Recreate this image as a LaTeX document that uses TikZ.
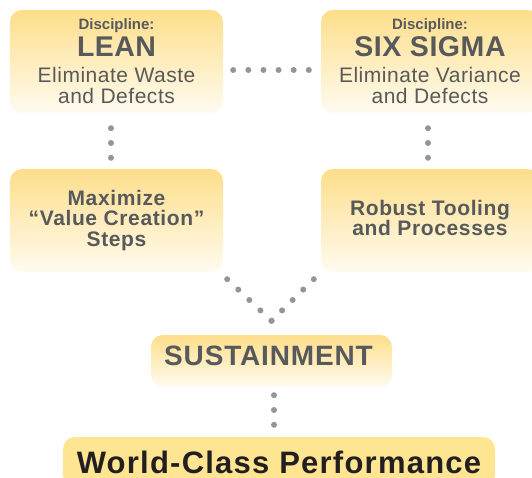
\documentclass[tikz,border=0pt]{standalone}
\usepackage{fontspec}
\setmainfont{Liberation Sans}
\usepackage{tikz}
\usetikzlibrary{calc}
\definecolor{boxgold}{HTML}{FDDE8A}
\definecolor{boxpale}{HTML}{FFFBF0}
\definecolor{goalgold}{HTML}{FEE591}
\definecolor{txtgray}{HTML}{58595B}
\definecolor{darktxt}{HTML}{231F20}
\definecolor{dotgray}{HTML}{939598}
\tikzset{
	panel/.style={rounded corners=12pt, align=center, inner sep=0pt},
	box/.style={panel, top color=boxgold, bottom color=boxpale, text=txtgray},
	goal/.style={panel, fill=goalgold, text=darktxt},
	dotfill/.style={fill=dotgray},
}
\newcommand{\spaced}[2]{\fontsize{#1}{#1}\selectfont\addfontfeature{LetterSpace=#2}}
\newcommand{\dotrow}[3]{\foreach \i in {0,...,#3} \fill[dotfill] ($(#1)!\i/#3!(#2)$) circle (3pt);}

\begin{document}
\begin{tikzpicture}[x=1pt,y=-1pt]
		\useasboundingbox (0,0) rectangle (532,478);
		\clip (0,0) rectangle (532,478);
		\node[box, minimum width=213pt, minimum height=103pt, font={\fontsize{21}{21}\selectfont\lineskiplimit=-100pt}] (lean) at (116.5,61.5)
			{{\fontsize{15}{15}\selectfont\bfseries Discipline:}\\[6pt]{\spaced{28.5}{1.5}\bfseries LEAN}\\[5pt]{\spaced{21}{2.5}Eliminate Waste}\\{\spaced{21}{2.5}and Defects}};
		\node[box, minimum width=218pt, minimum height=103pt, font={\fontsize{21}{21}\selectfont\lineskiplimit=-100pt}] (six) at (430,61.5)
			{{\fontsize{15}{15}\selectfont\bfseries Discipline:}\\[6pt]{\spaced{28.5}{2}\bfseries SIX SIGMA}\\[5pt]{\spaced{21}{2.5}Eliminate Variance}\\{\spaced{21}{2.5}and Defects}};
		\node[box, minimum width=213pt, minimum height=103pt, font={\spaced{21}{3}\baselineskip=20.5pt\bfseries\lineskiplimit=-100pt}] (max) at (116.5,220.5)
			{Maximize\\“Value Creation”\\Steps};
		\node[box, minimum width=218pt, minimum height=103pt, font={\spaced{21}{3}\baselineskip=20.5pt\bfseries\lineskiplimit=-100pt}] (robust) at (430,220.5)
			{Robust Tooling\\and Processes\rule[-5pt]{0pt}{5pt}};
		\node[box, minimum width=241pt, minimum height=52pt, text height=20pt, text depth=12pt, font={\spaced{28}{3}\bfseries}] (sust) at (271.5,361)
			{\kern-6pt SUSTAINMENT};
		\node[goal, minimum width=432pt, minimum height=50pt, font={\spaced{31}{4}\bfseries}] (world) at (279,462)
			{World-Class Performance};
		% dotted links
		\coordinate (h1) at ([xshift=10pt,yshift=-8.5pt]lean.east);
		\coordinate (h2) at ([xshift=-12pt,yshift=-8.5pt]six.west);
		\dotrow{h1}{h2}{5}
		\coordinate (l1) at ([xshift=-5.5pt,yshift=-15pt]lean.south);
		\coordinate (l2) at ([xshift=-5.5pt,yshift=11pt]max.north);
		\dotrow{l1}{l2}{2}
		\coordinate (r1) at ([xshift=-2pt,yshift=-15pt]six.south);
		\coordinate (r2) at ([xshift=-2pt,yshift=11pt]robust.north);
		\dotrow{r1}{r2}{2}
		\coordinate (vl) at ([xshift=4pt,yshift=-7pt]max.south east);
		\coordinate (vr) at ([xshift=-7pt,yshift=-7pt]robust.south west);
		\coordinate (vb) at ([yshift=14pt]sust.north);
		\dotrow{vl}{vb}{4}
		\dotrow{vr}{vb}{4}
		\coordinate (s1) at ([xshift=2.5pt,yshift=-8pt]sust.south);
		\coordinate (s2) at ([xshift=-5pt,yshift=12pt]world.north);
		\dotrow{s1}{s2}{2}
	\end{tikzpicture}
\end{document}
